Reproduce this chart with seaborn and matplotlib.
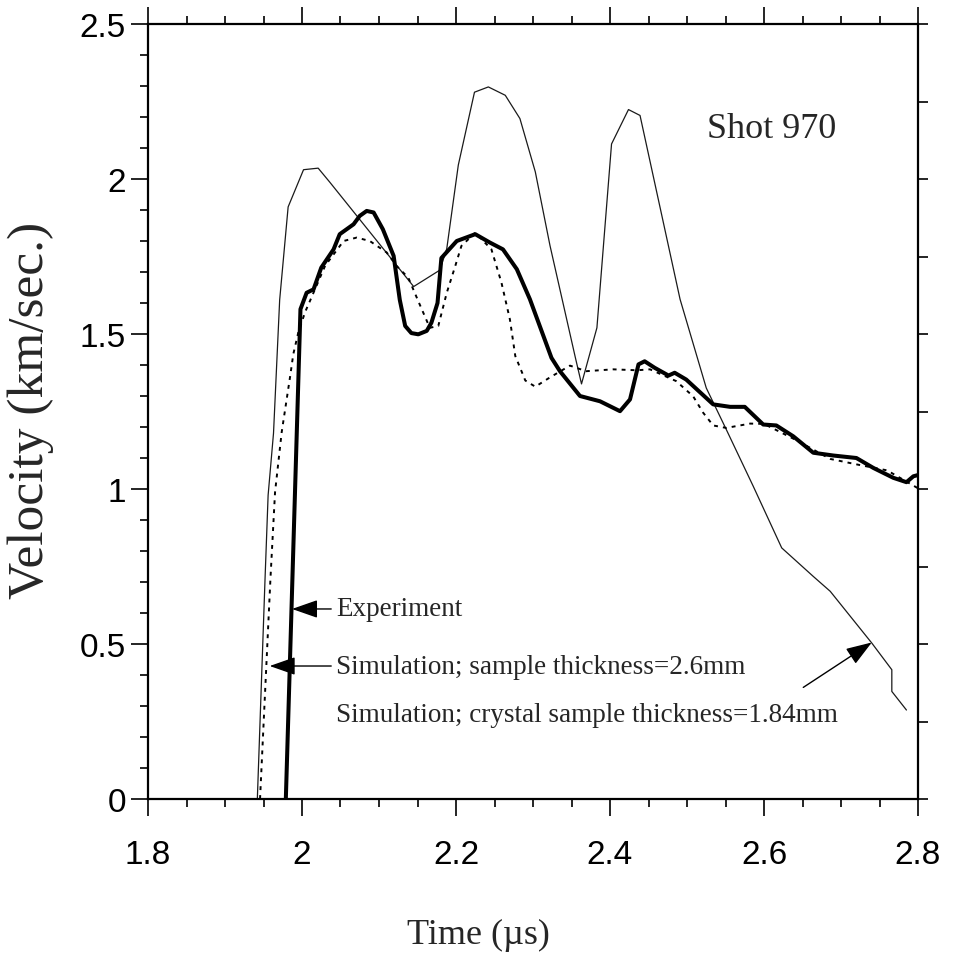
import matplotlib
matplotlib.use("Agg")
import matplotlib.pyplot as plt
import seaborn as sns
import numpy as np
from matplotlib.ticker import MultipleLocator

# ---------------- data ----------------
t_exp = [1.979, 1.998, 2.006, 2.015, 2.025, 2.041, 2.049, 2.067, 2.075, 2.084,
         2.093, 2.105, 2.119, 2.127, 2.134, 2.142, 2.151, 2.162, 2.168, 2.176,
         2.181, 2.201, 2.225, 2.244, 2.261, 2.279, 2.296, 2.324, 2.335, 2.361,
         2.387, 2.413, 2.426, 2.437, 2.445, 2.458, 2.476, 2.484, 2.499, 2.534,
         2.556, 2.575, 2.599, 2.616, 2.638, 2.664, 2.690, 2.720, 2.742, 2.768,
         2.785, 2.794, 2.803]
v_exp = [0.0, 1.58, 1.633, 1.644, 1.714, 1.773, 1.822, 1.854, 1.881, 1.897,
         1.892, 1.838, 1.752, 1.61, 1.526, 1.503, 1.499, 1.51, 1.536, 1.60,
         1.745, 1.80, 1.822, 1.795, 1.773, 1.709, 1.612, 1.423, 1.38, 1.30,
         1.283, 1.251, 1.289, 1.402, 1.412, 1.391, 1.366, 1.375, 1.353, 1.273,
         1.265, 1.265, 1.208, 1.205, 1.17, 1.117, 1.108, 1.10, 1.068, 1.036,
         1.022, 1.041, 1.047]

t_sim26 = [1.9455, 1.959, 1.965, 1.9736, 1.9844, 1.9887, 1.9952, 2.0039, 2.0104,
           2.030, 2.054, 2.071, 2.088, 2.110, 2.123, 2.138, 2.151, 2.166, 2.177,
           2.188, 2.199, 2.207, 2.225, 2.246, 2.259, 2.270, 2.277, 2.290, 2.303,
           2.322, 2.348, 2.369, 2.404, 2.435, 2.452, 2.486, 2.508, 2.521, 2.534,
           2.551, 2.582, 2.600, 2.640, 2.686, 2.725, 2.760, 2.803]
v_sim26 = [0.0, 0.71, 0.99, 1.183, 1.36, 1.435, 1.505, 1.57, 1.607,
           1.72, 1.80, 1.811, 1.80, 1.763, 1.719, 1.682, 1.606, 1.52, 1.526,
           1.633, 1.719, 1.784, 1.827, 1.773, 1.666, 1.547, 1.429, 1.35, 1.33,
           1.36, 1.398, 1.38, 1.386, 1.383, 1.386, 1.348, 1.299, 1.246, 1.205,
           1.197, 1.211, 1.21, 1.16, 1.097, 1.077, 1.06, 0.998]

t_sim184 = [1.942, 1.952, 1.956, 1.963, 1.971, 1.982, 2.002, 2.021, 2.036, 2.145,
            2.179, 2.188, 2.203, 2.224, 2.242, 2.264, 2.283, 2.303, 2.322, 2.355,
            2.363, 2.383, 2.402, 2.424, 2.439, 2.491, 2.525, 2.551, 2.586, 2.623,
            2.664, 2.686, 2.740, 2.766, 2.766, 2.785]
v_sim184 = [0.0, 0.71, 0.98, 1.18, 1.61, 1.91, 2.03, 2.035, 1.99, 1.653,
            1.706, 1.775, 2.045, 2.28, 2.297, 2.27, 2.195, 2.023, 1.786, 1.424,
            1.339, 1.52, 2.113, 2.224, 2.205, 1.612, 1.326, 1.192, 1.009, 0.81,
            0.718, 0.67, 0.503, 0.417, 0.347, 0.287]

x_ticks = [1.8, 2.0, 2.2, 2.4, 2.6, 2.8]
x_ticklabels = ["1.8", "2", "2.2", "2.4", "2.6", "2.8"]
y_ticks = [0, 0.5, 1.0, 1.5, 2.0, 2.5]
y_ticklabels = ["0", "0.5", "1", "1.5", "2", "2.5"]

label_exp = "Experiment"
label_26 = "Simulation; sample thickness=2.6mm"
label_184 = "Simulation; crystal sample thickness=1.84mm"
title_text = "Shot 970"

# ---------------- style ----------------
sns.set_theme(style="ticks")
plt.rcParams["font.family"] = ["Liberation Serif", "DejaVu Serif"]
SANS = ["Liberation Sans Narrow", "Liberation Sans", "DejaVu Sans"]
SERIF = ["Liberation Serif", "DejaVu Serif"]

W, H = 958, 954
fig = plt.figure(figsize=(W / 100, H / 100), dpi=100)
fig.patch.set_facecolor("white")
ax = fig.add_axes([148 / W, 1 - 800 / H, 770 / W, 775 / H])
ax.set_facecolor("white")

sns.lineplot(x=t_sim184, y=v_sim184, ax=ax, color="#1a1a1a", lw=0.9,
             estimator=None, sort=False)
sns.lineplot(x=t_sim26, y=v_sim26, ax=ax, color="black", lw=1.4,
             linestyle=(0, (2.0, 2.6)), estimator=None, sort=False)
sns.lineplot(x=t_exp, y=v_exp, ax=ax, color="black", lw=2.9,
             estimator=None, sort=False)

ax.set_xlim(1.8, 2.8)
ax.set_ylim(0, 2.5)

for s in ax.spines.values():
    s.set_linewidth(1.6)
    s.set_color("black")

ax.set_xticks(x_ticks)
ax.set_xticklabels(x_ticklabels, family=SANS, fontsize=24)
ax.set_yticks(y_ticks)
ax.set_yticklabels(y_ticklabels, family=SANS, fontsize=24)
ax.xaxis.set_minor_locator(MultipleLocator(0.05))
ax.yaxis.set_minor_locator(MultipleLocator(0.1))
ax.tick_params(axis="x", which="major", direction="out", length=12, width=1.2,
               top=True, bottom=True, labeltop=False, pad=17, colors="black")
ax.tick_params(axis="x", which="minor", direction="out", length=6, width=1.2,
               top=True, bottom=True, colors="black")
ax.tick_params(axis="y", which="major", direction="out", length=12, width=1.2,
               left=True, right=False, pad=4, colors="black")
ax.tick_params(axis="y", which="minor", direction="out", length=6, width=1.2,
               left=True, right=False, colors="black")

ax2 = ax.twinx()
ax2.set_ylim(0, 2.5)
ax2.set_yticks(np.arange(0, 2.51, 0.25))
ax2.tick_params(axis="y", direction="out", length=7, width=1.2, labelright=False,
                colors="black")
for s in ax2.spines.values():
    s.set_visible(False)

# axis titles placed where the reference has them
fig.text(478 / W, 1 - 935 / H, "Time (\u00b5s)", family=SERIF, fontsize=26,
         ha="center", va="center")
fig.text(31 / W, 1 - 410 / H, "Velocity (km/sec.)", family=SERIF, fontsize=37,
         ha="center", va="center", rotation=90)

ax.text(0.81, 0.865, title_text, transform=ax.transAxes, family=SERIF,
        fontsize=26, ha="center", va="center")

ax.annotate(label_exp, xy=(1.987, 0.613), xytext=(2.044, 0.613),
            family=SERIF, fontsize=19.5, va="center", ha="left",
            arrowprops=dict(arrowstyle="-|>,head_length=0.8,head_width=0.28",
                            color="black", lw=1.0, shrinkA=1, shrinkB=0,
                            mutation_scale=20))
ax.annotate(label_26, xy=(1.958, 0.429), xytext=(2.044, 0.429),
            family=SERIF, fontsize=19.5, va="center", ha="left",
            arrowprops=dict(arrowstyle="-|>,head_length=0.8,head_width=0.28",
                            color="black", lw=1.0, shrinkA=1, shrinkB=0,
                            mutation_scale=20))
ax.text(2.044, 0.271, label_184, family=SERIF, fontsize=19.5, va="center",
        ha="left")
ax.annotate("", xy=(2.740, 0.505), xytext=(2.651, 0.36),
            arrowprops=dict(arrowstyle="-|>,head_length=0.8,head_width=0.28",
                            color="black", lw=1.0, shrinkA=0, shrinkB=0,
                            mutation_scale=20))

fig.savefig("out.png", dpi=100, facecolor="white")
